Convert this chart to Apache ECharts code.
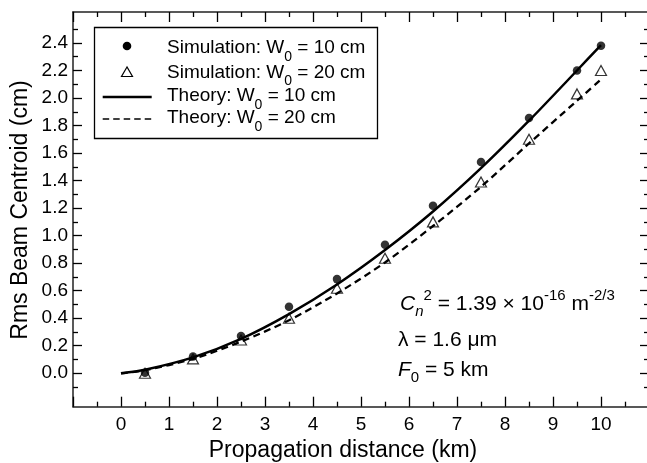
<!DOCTYPE html>
<html>
<head>
<meta charset="utf-8">
<script src="https://cdn.jsdelivr.net/npm/echarts@6/dist/echarts.min.js"></script>
<style>
html,body{margin:0;padding:0;background:#fff;}
#chart{width:647px;height:463px;}
</style>
</head>
<body>
<div id="chart"></div>
<script>
// ---- data ----
const simX = [0.5, 1.5, 2.5, 3.5, 4.5, 5.5, 6.5, 7.5, 8.5, 9.5, 10];
const sim10 = [0.004, 0.121, 0.271, 0.484, 0.684, 0.934, 1.217, 1.535, 1.855, 2.2, 2.38];
const sim20 = [0.0, 0.104, 0.242, 0.40, 0.618, 0.836, 1.10, 1.39, 1.70, 2.03, 2.2];
const theoryX = [0, 0.5, 1.5, 2.5, 3.5, 4.5, 5.5, 6.5, 7.5, 8.5, 9.5, 10];
const theory10 = [0, 0.025, 0.115, 0.25, 0.43, 0.645, 0.895, 1.175, 1.49, 1.835, 2.2, 2.385];
const theory20 = [0, 0.022, 0.105, 0.23, 0.385, 0.58, 0.805, 1.07, 1.355, 1.67, 1.98, 2.135];
const yMajorTicks = [0, 0.2, 0.4, 0.6, 0.8, 1.0, 1.2, 1.4, 1.6, 1.8, 2.0, 2.2, 2.4];
const yMinorTicks = [-0.1, 0.1, 0.3, 0.5, 0.7, 0.9, 1.1, 1.3, 1.5, 1.7, 1.9, 2.1, 2.3, 2.5];
const legendNames = ['Simulation: W0 = 10 cm', 'Simulation: W0 = 20 cm', 'Theory: W0 = 10 cm', 'Theory: W0 = 20 cm'];

const FONT = 'Liberation Sans';
const Y_MIN = -0.243, Y_MAX = 2.625;
const zip = (xs, ys) => xs.map((x, i) => [x, ys[i]]);

const chart = echarts.init(document.getElementById('chart'), null, {renderer: 'canvas'});

const xCommon = {
  type: 'value', min: -1, max: 11, interval: 1,
  axisLine: {show: true, onZero: false, lineStyle: {color: '#222', width: 1.5}},
  axisTick: {show: true, inside: true, length: 10, lineStyle: {color: '#000', width: 1.3}},
  minorTick: {show: true, splitNumber: 2, length: 5, lineStyle: {color: '#000', width: 1.3}},
  splitLine: {show: false}, minorSplitLine: {show: false}
};
const yCommon = {
  type: 'value', min: Y_MIN, max: Y_MAX,
  splitLine: {show: false}
};

const legendRich = {
  sub: {fontSize: 14, lineHeight: 14, verticalAlign: 'bottom', fontFamily: FONT, fill: '#000'}
};
function legendText(name, y) {
  const parts = name.split('W0');
  return {
    type: 'text', x: 167, y: y, z: 102,
    style: {
      text: parts[0] + 'W{sub|0}' + parts[1],
      fontSize: 19, fontFamily: FONT, fill: '#000', lineHeight: 32,
      verticalAlign: 'middle', align: 'left', rich: legendRich
    }
  };
}

const annRich = {
  it: {fontSize: 21, fontStyle: 'italic', fontFamily: FONT, lineHeight: 31, fill: '#000'},
  sub: {fontSize: 15, lineHeight: 15, verticalAlign: 'bottom', fontFamily: FONT, fill: '#000'},
  subi: {fontSize: 15, lineHeight: 15, verticalAlign: 'bottom', fontStyle: 'italic', fontFamily: FONT, fill: '#000'},
  sup: {fontSize: 15, lineHeight: 15, verticalAlign: 'top', fontFamily: FONT, fill: '#000'}
};
function annText(text, x, y) {
  return {
    type: 'text', x: x, y: y, z: 102,
    style: {text: text, fontSize: 21, fontFamily: FONT, fill: '#000', lineHeight: 31,
      verticalAlign: 'middle', align: 'left', rich: annRich}
  };
}

const option = {
  backgroundColor: '#fff',
  animation: false,
  grid: {left: 73, top: 12, width: 576, height: 394.7, outerBoundsMode: 'none', containLabel: false},
  xAxis: [
    Object.assign({}, xCommon, {
      position: 'bottom',
      axisLabel: {show: true, showMinLabel: false, showMaxLabel: false, margin: 9,
        fontSize: 19, fontFamily: FONT, color: '#000'}
    }),
    Object.assign({}, xCommon, {position: 'top', axisLabel: {show: false}})
  ],
  yAxis: [
    Object.assign({}, yCommon, {
      position: 'left',
      axisLine: {show: true, onZero: false, lineStyle: {color: '#222', width: 1.5}},
      axisTick: {show: true, inside: true, length: 9, customValues: yMajorTicks, lineStyle: {color: '#000', width: 1.3}},
      axisLabel: {show: true, customValues: yMajorTicks, margin: 5, fontSize: 19, fontFamily: FONT, color: '#000',
        formatter: v => Number(v).toFixed(1)}
    }),
    Object.assign({}, yCommon, {
      position: 'left',
      axisLine: {show: false, onZero: false},
      axisTick: {show: true, inside: true, length: 5, customValues: yMinorTicks, lineStyle: {color: '#000', width: 1.3}},
      axisLabel: {show: false}
    }),
    Object.assign({}, yCommon, {
      position: 'right',
      axisLine: {show: true, onZero: false, lineStyle: {color: '#222', width: 1.5}},
      axisTick: {show: true, inside: true, length: 9, customValues: yMajorTicks, lineStyle: {color: '#000', width: 1.3}},
      axisLabel: {show: false}
    }),
    Object.assign({}, yCommon, {
      position: 'right',
      axisLine: {show: false, onZero: false},
      axisTick: {show: true, inside: true, length: 5, customValues: yMinorTicks, lineStyle: {color: '#000', width: 1.3}},
      axisLabel: {show: false}
    })
  ],
  series: [
    {
      name: legendNames[1], type: 'scatter', xAxisIndex: 0, yAxisIndex: 0,
      data: zip(simX, sim20), symbol: 'triangle', symbolSize: [11, 10],
      itemStyle: {color: '#fff', borderColor: '#000', borderWidth: 1.2}, z: 2
    },
    {
      name: legendNames[2], type: 'line', xAxisIndex: 0, yAxisIndex: 0,
      data: zip(theoryX, theory10), smooth: 0.3, symbol: 'none',
      lineStyle: {color: '#000', width: 2.5}, z: 3
    },
    {
      name: legendNames[3], type: 'line', xAxisIndex: 0, yAxisIndex: 0,
      data: zip(theoryX, theory20), smooth: 0.3, symbol: 'none',
      lineStyle: {color: '#000', width: 2.3, type: [7, 4.5]}, z: 3
    },
    {
      name: legendNames[0], type: 'scatter', xAxisIndex: 0, yAxisIndex: 0,
      data: zip(simX, sim10), symbol: 'circle', symbolSize: 8.5,
      itemStyle: {color: '#000'}, z: 4
    }
  ],
  graphic: [
    // axis names
    {type: 'text', x: 343, y: 451, z: 102,
      style: {text: 'Propagation distance (km)', fontSize: 23, fontFamily: FONT, fill: '#000', align: 'center', verticalAlign: 'middle'}},
    {type: 'text', x: 21, y: 210, rotation: Math.PI / 2, z: 102,
      style: {text: 'Rms Beam Centroid (cm)', fontSize: 23, fontFamily: FONT, fill: '#000', align: 'center', verticalAlign: 'middle'}},
    // legend box
    {type: 'rect', shape: {x: 94.5, y: 27.5, width: 283, height: 111}, z: 100,
      style: {fill: '#fff', stroke: '#000', lineWidth: 1.3}},
    {type: 'circle', shape: {cx: 127, cy: 46, r: 4.3}, z: 101, style: {fill: '#000'}},
    {type: 'polygon', shape: {points: [[127, 67], [121.5, 76.5], [132.5, 76.5]]}, z: 101,
      style: {fill: '#fff', stroke: '#000', lineWidth: 1.2}},
    {type: 'line', shape: {x1: 102.7, y1: 97, x2: 151.7, y2: 97}, z: 101,
      style: {stroke: '#000', lineWidth: 2.5}},
    {type: 'line', shape: {x1: 102.7, y1: 119, x2: 151.7, y2: 119}, z: 101,
      style: {stroke: '#000', lineWidth: 1.5, lineDash: [6.5, 4]}},
    legendText(legendNames[0], 48),
    legendText(legendNames[1], 72.5),
    legendText(legendNames[2], 96),
    legendText(legendNames[3], 118),
    // annotation
    annText('{it|C}{subi|n}{sup|2} = 1.39 × 10{sup|-16} m{sup|-2/3}', 400, 304),
    annText('λ = 1.6 μm', 398, 340),
    annText('{it|F}{sub|0} = 5 km', 398, 370)
  ]
};
chart.setOption(option);
</script>
</body>
</html>
